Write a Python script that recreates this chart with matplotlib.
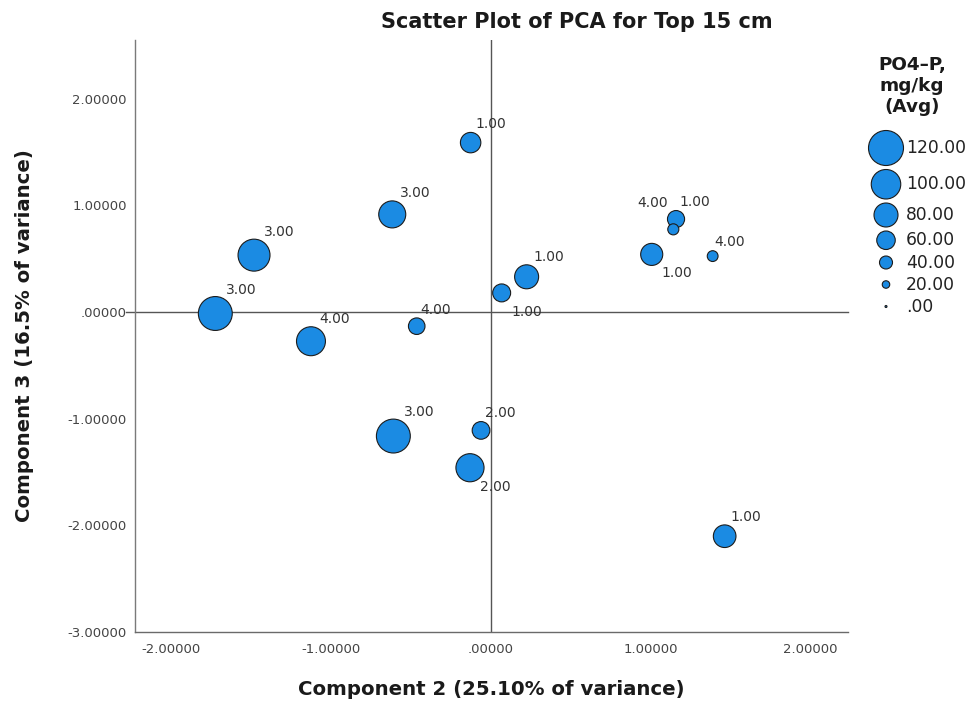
import matplotlib
matplotlib.use("Agg")
import matplotlib.pyplot as plt

# Component scores (PC2 on x, PC3 on y), site group code and PO4-P average
comp2 = [-0.126, -0.616, -1.480, -1.722, -1.124, -0.463, 0.068, 0.224,
         -0.609, -0.061, -0.130, 1.006, 1.158, 1.141, 1.387, 1.462]
comp3 = [1.588, 0.915, 0.533, -0.014, -0.274, -0.133, 0.179, 0.330,
         -1.163, -1.110, -1.460, 0.540, 0.871, 0.775, 0.524, -2.102]
group = [1.00, 3.00, 3.00, 3.00, 4.00, 4.00, 1.00, 1.00,
         3.00, 2.00, 2.00, 1.00, 1.00, 4.00, 4.00, 1.00]
po4p = [67, 91, 109, 116, 98, 53, 58, 80,
        116, 57, 95, 73, 55, 33, 32, 75]

# label placement around each bubble: ur = upper right, lr = lower right, ul = upper left
placement = ['ur', 'ur', 'ur', 'ur', 'ur', 'ur', 'lr', 'ur',
             'ur', 'ur', 'lr', 'lr', 'ur', 'ul', 'ur', 'ur']

legend_values = [120, 100, 80, 60, 40, 20, 0]
legend_labels = ['120.00', '100.00', '80.00', '60.00', '40.00', '20.00', '.00']

x_ticks = [-2, -1, 0, 1, 2]
x_ticklabels = ['-2.00000', '-1.00000', '.00000', '1.00000', '2.00000']
y_ticks = [-3, -2, -1, 0, 1, 2]
y_ticklabels = ['-3.00000', '-2.00000', '-1.00000', '.00000', '1.00000', '2.00000']

FILL = '#1b8be3'
EDGE = '#1c1c1c'
DPI = 100
W, H = 974, 704


def diameter_px(v):
    return 2.0 + 0.275 * v


def area_pt2(v):
    d_pt = diameter_px(v) * 72.0 / DPI
    return d_pt ** 2


fig = plt.figure(figsize=(W / DPI, H / DPI), dpi=DPI)
fig.patch.set_facecolor('white')

left, right, top, bottom = 135, 848, 40, 632
ax = fig.add_axes([left / W, (H - bottom) / H, (right - left) / W, (bottom - top) / H])
ax.set_xlim(-2.224, 2.233)
ax.set_ylim(-3.0, 2.55)

# reference lines through the origin
ax.axhline(0, xmin=-0.012, xmax=1, color='#555555', lw=1.0, zorder=1, clip_on=False)
ax.axvline(0, color='#555555', lw=1.0, zorder=1)

sizes = [area_pt2(v) for v in po4p]
ax.scatter(comp2, comp3, s=sizes, c=FILL, edgecolors=EDGE, linewidths=0.8, zorder=3)

for x, y, g, v, p in zip(comp2, comp3, group, po4p, placement):
    r = diameter_px(v) / 2.0
    if p == 'ur':
        off, ha = (0.8 * r - 3, 0.85 * r + 5.5), 'left'
    elif p == 'lr':
        off, ha = (10, -23), 'left'
    else:
        off, ha = (-5, 22), 'right'
    ax.annotate(f'{g:.2f}', (x, y), xytext=off, textcoords='offset pixels',
                ha=ha, va='baseline', fontsize=10, color='#333333', zorder=4)

for side in ('top', 'right'):
    ax.spines[side].set_visible(False)
ax.spines['left'].set_color('#7a7a7a')
ax.spines['bottom'].set_color('#6a6a6a')
ax.spines['left'].set_linewidth(1.0)
ax.spines['bottom'].set_linewidth(1.0)

ax.set_xticks(x_ticks)
ax.set_xticklabels(x_ticklabels)
ax.set_yticks(y_ticks)
ax.set_yticklabels(y_ticklabels)
ax.tick_params(axis='both', length=0, labelsize=9.5, labelcolor='#444444')
ax.tick_params(axis='x', pad=8)
ax.tick_params(axis='y', pad=6)

ax.set_xlabel('Component 2 (25.10% of variance)', fontsize=14.2,
              fontweight='bold', color='#1a1a1a', labelpad=17)
ax.set_ylabel('Component 3 (16.5% of variance)', fontsize=14.2,
              fontweight='bold', color='#1a1a1a', labelpad=24)

fig.text(577 / W, 1 - 22 / H, 'Scatter Plot of PCA for Top 15 cm',
         ha='center', va='center', fontsize=15, fontweight='bold', color='#1a1a1a')

# size legend drawn in pixel coordinates on its own axes
lx0, lx1, ly0, ly1 = 852, 974, 40, 330
lax = fig.add_axes([lx0 / W, (H - ly1) / H, (lx1 - lx0) / W, (ly1 - ly0) / H])
lax.set_xlim(lx0, lx1)
lax.set_ylim(ly1, ly0)
lax.axis('off')

lax.text(912, 86, 'PO4\u2013P,\nmg/kg\n(Avg)', ha='center', va='center',
         fontsize=13.2, fontweight='bold', color='#1a1a1a', linespacing=1.22)

row_y = []
y = 148.0
prev_h = None
for v in legend_values:
    h = max(18.0, diameter_px(v)) + 4.0
    if prev_h is not None:
        y += (prev_h + h) / 2.0
    row_y.append(y)
    prev_h = h

lax.scatter([886] * len(legend_values), row_y,
            s=[area_pt2(v) for v in legend_values],
            c=FILL, edgecolors=EDGE, linewidths=0.8, clip_on=False)
for yy, lab in zip(row_y, legend_labels):
    lax.text(906, yy, lab, ha='left', va='center', fontsize=12.3, color='#222222')

fig.savefig('out.png', dpi=DPI, facecolor='white')
